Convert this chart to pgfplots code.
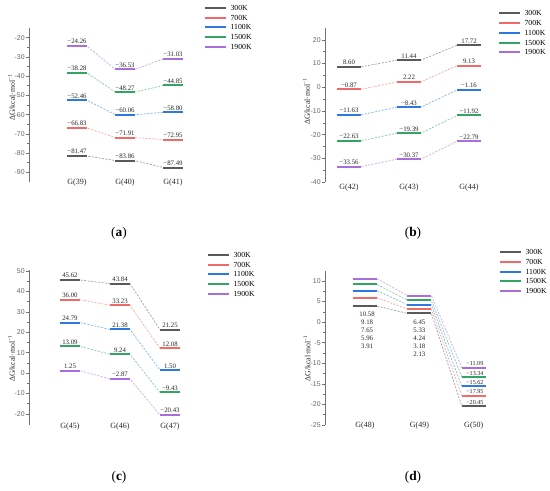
\documentclass[border=0pt]{standalone}
\usepackage{pgfplots}
\pgfplotsset{compat=1.18}
\usepackage{fontspec}
\setmainfont{Liberation Serif}
\newfontfamily\sansf{Liberation Sans}
\definecolor{c300}{RGB}{90,90,90}
\definecolor{c700}{RGB}{242,105,105}
\definecolor{c1100}{RGB}{45,120,225}
\definecolor{c1500}{RGB}{50,165,100}
\definecolor{c1900}{RGB}{170,110,220}
\tikzset{
  lab/.style={font=\fontsize{5.1}{6}\selectfont, anchor=south, inner sep=0.5pt, yshift=0.75pt, text=black!85},
  labd/.style={font=\fontsize{4.6}{5.5}\selectfont, anchor=south, inner sep=0.5pt, yshift=0.75pt, xshift=0.8pt, text=black!85},
  col/.style={font=\fontsize{5.1}{6}\selectfont, align=center, inner sep=0pt, text=black!85},
  cat/.style={font=\fontsize{6}{7}\selectfont, text=black!85, inner sep=0pt},
}
\newcommand{\ser}[7]{%
  \edef\tmp{\noexpand\addplot[#1!55, line width=0.55pt, dash pattern=on 1.6pt off 1pt, forget plot] coordinates {(\xA,#2) (\xB,#2) (\xC,#3) (\xD,#3) (\xE,#4) (\xF,#4)};}\tmp
  \edef\tmp{\noexpand\addplot[#1, line width=1.5pt, unbounded coords=jump, forget plot] coordinates {(\xA,#2) (\xB,#2) (1.5,nan) (\xC,#3) (\xD,#3) (2.5,nan) (\xE,#4) (\xF,#4)};}\tmp
  \node[lab] at (axis cs:1,#2) {#5};
  \node[lab] at (axis cs:2,#3) {#6};
  \node[lab] at (axis cs:3,#4) {#7};
}
\newcommand{\leg}{%
  \addlegendimage{c300}\addlegendentry{300K}
  \addlegendimage{c700}\addlegendentry{700K}
  \addlegendimage{c1100}\addlegendentry{1100K}
  \addlegendimage{c1500}\addlegendentry{1500K}
  \addlegendimage{c1900}\addlegendentry{1900K}
}
\pgfplotsset{base/.style={
  scale only axis, clip=false,
  axis x line=none, axis y line=left,
  axis line style={-, black!55, line width=0.5pt},
  tick align=outside, major tick length=2.25pt, minor tick length=1.3pt,
  minor y tick num=1,
  tick style={black!55, line width=0.4pt},
  yticklabel style={font=\sansf\fontsize{5.2}{6}\selectfont, text=black!60, inner sep=0.8pt},
  /pgf/number format/assume math mode=true,
  legend style={draw=none, fill=none, anchor=north west, inner sep=0pt,
    font=\fontsize{5.8}{6.5}\selectfont,
    nodes={inner sep=0pt, text height=3.8pt, text depth=0pt},
    row sep=3.5pt,
    /tikz/every odd column/.append style={column sep=2.5pt}},
  legend cell align=left,
  legend image code/.code={\draw[##1, line width=1.5pt] (0pt,0pt) -- (15.75pt,0pt);},
}}
\begin{document}
\begin{tikzpicture}
\path[use as bounding box] (0pt,0pt) rectangle (412.5pt,367.5pt);
% ---------------- (a)
\def\xA{0.8}\def\xB{1.2}\def\xC{1.8}\def\xD{2.2}\def\xE{2.8}\def\xF{3.2}
\begin{axis}[base, at={(21.75pt,231pt)}, anchor=south west, width=126pt, height=115.5pt,
  xmin=0, xmax=3.5, ymin=-95, ymax=-15, ytick={-90,-80,...,-20},
  legend style={at={(axis description cs:1.0417,1.1494)}}]
\leg
\ser{c300}{-81.47}{-83.86}{-87.49}{−81.47}{−83.86}{−87.49}
\ser{c700}{-66.83}{-71.91}{-72.95}{−66.83}{−71.91}{−72.95}
\ser{c1100}{-52.46}{-60.06}{-58.80}{−52.46}{−60.06}{−58.80}
\ser{c1500}{-38.28}{-48.27}{-44.85}{−38.28}{−48.27}{−44.85}
\ser{c1900}{-24.26}{-36.53}{-31.03}{−24.26}{−36.53}{−31.03}
\node[cat] at (axis cs:1,-95) [yshift=-0.75pt] {G(39)};
\node[cat] at (axis cs:2,-95) [yshift=-0.75pt] {G(40)};
\node[cat] at (axis cs:3,-95) [yshift=-0.75pt] {G(41)};
\end{axis}
% ---------------- (b)
\begin{axis}[base, at={(243.75pt,231pt)}, anchor=south west, width=130.5pt, height=115.5pt,
  xmin=0.6, xmax=3.5, ymin=-40, ymax=25, ytick={-40,-30,...,20},
  legend style={at={(axis description cs:0.9943,1.1136)}}]
\leg
\ser{c300}{8.60}{11.44}{17.72}{8.60}{11.44}{17.72}
\ser{c700}{-0.87}{2.22}{9.13}{−0.87}{2.22}{9.13}
\ser{c1100}{-11.63}{-8.43}{-1.16}{−11.63}{−8.43}{−1.16}
\ser{c1500}{-22.63}{-19.39}{-11.92}{−22.63}{−19.39}{−11.92}
\ser{c1900}{-33.56}{-30.37}{-22.79}{−33.56}{−30.37}{−22.79}
\node[cat] at (axis cs:1,-40) [yshift=-4.5pt] {G(42)};
\node[cat] at (axis cs:2,-40) [yshift=-4.5pt] {G(43)};
\node[cat] at (axis cs:3,-40) [yshift=-4.5pt] {G(44)};
\end{axis}
% ---------------- (c)
\begin{axis}[base, at={(21.75pt,48.75pt)}, anchor=south west, width=124.5pt, height=116.25pt,
  xmin=0.18, xmax=3.5, ymin=-25.4, ymax=50.5, ytick={-20,-10,...,50},
  legend style={at={(axis description cs:1.0723,1.1161)}}]
\leg
\ser{c300}{45.62}{43.84}{21.25}{45.62}{43.84}{21.25}
\ser{c700}{36.00}{33.23}{12.08}{36.00}{33.23}{12.08}
\ser{c1100}{24.79}{21.38}{1.50}{24.79}{21.38}{1.50}
\ser{c1500}{13.09}{9.24}{-9.43}{13.09}{9.24}{−9.43}
\ser{c1900}{1.25}{-2.87}{-20.43}{1.25}{−2.87}{−20.43}
\node[cat] at (axis cs:1,-25.4) [yshift=-1.5pt] {G(45)};
\node[cat] at (axis cs:2,-25.4) [yshift=-1.5pt] {G(46)};
\node[cat] at (axis cs:3,-25.4) [yshift=-1.5pt] {G(47)};
\end{axis}
% ---------------- (d)
\def\xA{0.78}\def\xB{1.22}\def\xC{1.78}\def\xD{2.22}\def\xE{2.78}\def\xF{3.22}
\begin{axis}[base, at={(243.75pt,48.75pt)}, anchor=south west, width=132pt, height=115.7pt,
  xmin=0.266, xmax=3.5, ymin=-25, ymax=12.5, ytick={-25,-20,...,10},
  legend style={at={(axis description cs:0.9886,1.1387)}}]
\leg
\ser{c300}{3.91}{2.13}{-20.45}{}{}{}
\ser{c700}{5.96}{3.18}{-17.95}{}{}{}
\ser{c1100}{7.65}{4.24}{-15.62}{}{}{}
\ser{c1500}{9.18}{5.33}{-13.34}{}{}{}
\ser{c1900}{10.58}{6.45}{-11.09}{}{}{}
\node[col] at (axis cs:1.04,-1.98) {10.58\\9.18\\7.65\\5.96\\3.91};
\node[col] at (axis cs:2,-3.86) {6.45\\5.33\\4.24\\3.18\\2.13};
\node[labd] at (axis cs:3,-11.09) {−11.09};
\node[labd] at (axis cs:3,-13.34) {−13.34};
\node[labd] at (axis cs:3,-15.62) {−15.62};
\node[labd] at (axis cs:3,-17.95) {−17.95};
\node[labd] at (axis cs:3,-20.45) {−20.45};
\node[cat] at (axis cs:1,-25) [yshift=-0.75pt] {G(48)};
\node[cat] at (axis cs:2,-25) [yshift=-0.75pt] {G(49)};
\node[cat] at (axis cs:3,-25) [yshift=-0.75pt] {G(50)};
\end{axis}
% ---------------- y labels and panel labels
\tikzset{ylab/.style={rotate=90, font=\fontsize{5.8}{7}\selectfont, text=black!85, inner sep=0pt}}
\node[ylab] at (8.625pt,294.375pt) {ΔG/kcal·mol\textsuperscript{−1}};
\node[ylab] at (229.875pt,291.375pt) {ΔG/kcal·mol\textsuperscript{−1}};
\node[ylab] at (8.625pt,98.625pt) {ΔG/kcal·mol\textsuperscript{−1}};
\node[ylab] at (230.25pt,99pt) {ΔG/kcal·mol\textsuperscript{−1}};
\node[font=\fontsize{10}{12}\selectfont] at (89.25pt,192.75pt) {(\textbf{a})};
\node[font=\fontsize{10}{12}\selectfont] at (309.75pt,192.75pt) {(\textbf{b})};
\node[font=\fontsize{10}{12}\selectfont] at (89.25pt,9.75pt) {(\textbf{c})};
\node[font=\fontsize{10}{12}\selectfont] at (309.75pt,9.75pt) {(\textbf{d})};
\end{tikzpicture}
\end{document}
